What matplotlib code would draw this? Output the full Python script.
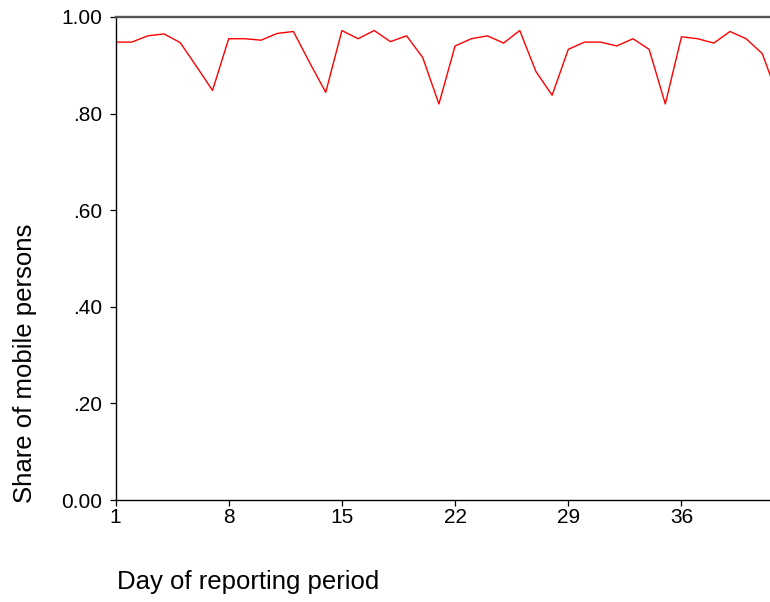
import matplotlib
matplotlib.use("Agg")
import matplotlib.pyplot as plt

plt.rcParams['font.family'] = ['Liberation Sans', 'DejaVu Sans']

days = list(range(1, 43))
share = [0.948, 0.948, 0.961, 0.965, 0.947, 0.898, 0.848,
         0.955, 0.955, 0.952, 0.966, 0.970, 0.906, 0.844,
         0.972, 0.955, 0.972, 0.949, 0.961, 0.916, 0.820,
         0.940, 0.955, 0.961, 0.946, 0.972, 0.887, 0.838,
         0.933, 0.948, 0.948, 0.940, 0.955, 0.933, 0.820,
         0.959, 0.955, 0.946, 0.970, 0.955, 0.924, 0.832]
xticks = [1, 8, 15, 22, 29, 36]
yticks = [0.0, 0.2, 0.4, 0.6, 0.8, 1.0]
ytick_labels = ["0.00", ".20", ".40", ".60", ".80", "1.00"]

W, H = 770, 602
fig = plt.figure(figsize=(W / 100, H / 100), dpi=100)
left_px, right_px, top_px, bottom_px = 115.5, 778.5, 17, 500
ax = fig.add_axes([left_px / W, (H - bottom_px) / H,
                   (right_px - left_px) / W, (bottom_px - top_px) / H])

ax.plot(days, share, color='#ff0000', linewidth=1.0)
ax.set_xlim(1, 42)
ax.set_ylim(0, 1)
ax.set_xticks(xticks)
ax.set_xticklabels([str(t) for t in xticks])
ax.set_yticks(yticks)
ax.set_yticklabels(ytick_labels)

ax.spines['right'].set_visible(False)
ax.spines['top'].set_color('#555555')
ax.spines['top'].set_linewidth(1.7)
ax.spines['left'].set_linewidth(1.0)
ax.spines['bottom'].set_linewidth(1.0)
ax.tick_params(axis='both', direction='out', length=4.5, width=0.9,
               labelsize=15, colors='black')
ax.tick_params(axis='y', pad=5.0)
ax.tick_params(axis='x', pad=1.5)

fig.text(117 / W, (H - 582) / H, "Day of reporting period", fontsize=18.5,
         ha='left', va='center')
fig.text(25 / W, (H - 363) / H, "Share of mobile persons", fontsize=18.5,
         rotation=90, ha='center', va='center')

fig.savefig("out.png", dpi=100)
